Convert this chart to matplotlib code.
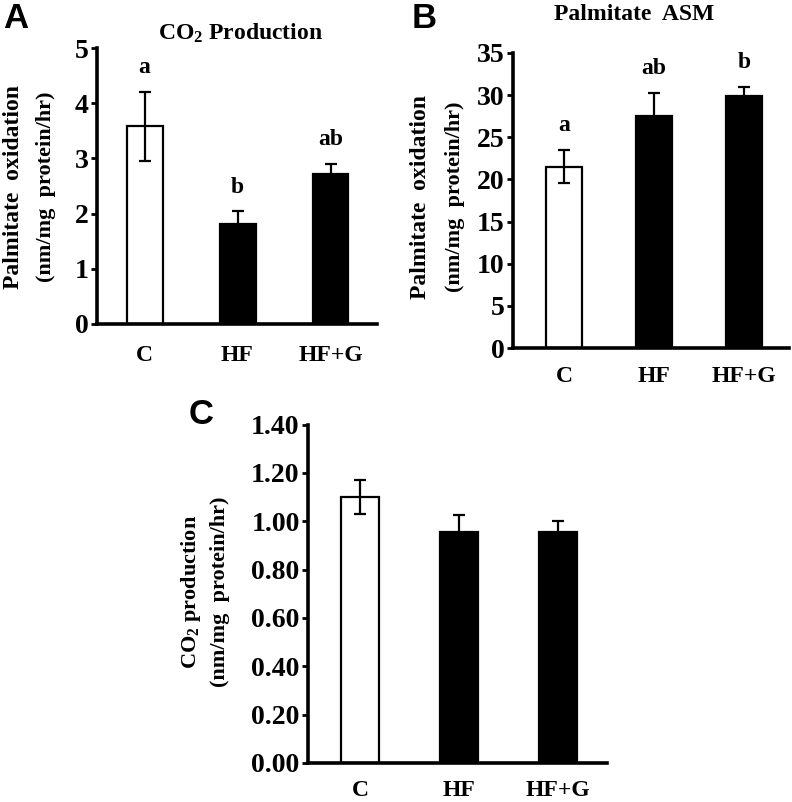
import matplotlib
matplotlib.use("Agg")
import matplotlib.pyplot as plt
import numpy as np

# ---- data ----
groups = ["C", "HF", "HF+G"]
bar_colors = ["white", "black", "black"]

a_means = [3.58, 1.82, 2.71]
a_sem = [0.62, 0.22, 0.19]
a_letters = ["a", "b", "ab"]

b_means = [21.5, 27.5, 29.9]
b_sem = [1.95, 2.8, 1.1]
b_letters = ["a", "ab", "b"]

c_means = [1.10, 0.954, 0.954]
c_sem = [0.07, 0.07, 0.045]

a_ticks = [0, 1, 2, 3, 4, 5]
b_ticks = [0, 5, 10, 15, 20, 25, 30, 35]
c_ticks = [0.0, 0.2, 0.4, 0.6, 0.8, 1.0, 1.2, 1.4]

# ---- style ----
plt.rcParams["font.family"] = ["Liberation Serif", "DejaVu Serif"]
plt.rcParams["font.weight"] = "bold"
plt.rcParams["mathtext.fontset"] = "custom"
plt.rcParams["mathtext.rm"] = "Liberation Serif:bold"
plt.rcParams["mathtext.it"] = "Liberation Serif:bold"
plt.rcParams["mathtext.bf"] = "Liberation Serif:bold"
plt.rcParams["mathtext.default"] = "rm"

W, H = 792, 802
DPI = 100
fig = plt.figure(figsize=(W / DPI, H / DPI), dpi=DPI)


def add_ax(left, right, top, bottom):
    return fig.add_axes([left / W, 1 - bottom / H, (right - left) / W, (bottom - top) / H])


def ftext(x, y, s, **kw):
    fig.text(x / W, 1 - y / H, s, **kw)


def draw_panel(ax, means, sem, xlim, width, ticks, fmt, tick_fs, xfs, xpad, letters=None):
    x = np.arange(len(groups))
    ax.bar(x, means, width=width, color=bar_colors, edgecolor="black", linewidth=1.6, zorder=2)
    ax.errorbar(x, means, yerr=sem, fmt="none", ecolor="black", elinewidth=1.6,
                capsize=4, capthick=1.6, zorder=3)
    ax.set_xlim(*xlim)
    ax.set_ylim(ticks[0], ticks[-1])
    ax.set_yticks(ticks)
    ax.set_yticklabels([fmt.format(t) for t in ticks], fontsize=tick_fs, fontweight="bold")
    ax.set_xticks(x)
    ax.set_xticklabels(groups, fontsize=xfs, fontweight="bold")
    ax.tick_params(axis="x", length=0, pad=xpad)
    ax.tick_params(axis="y", length=4, width=2, direction="out", pad=2)
    for s in ["top", "right"]:
        ax.spines[s].set_visible(False)
    for s in ["left", "bottom"]:
        ax.spines[s].set_linewidth(2.6)
    if letters is not None:
        for xi, m, e, lab in zip(x, means, sem, letters):
            ax.annotate(lab, xy=(xi, m + e), xytext=(0, 10), textcoords="offset points",
                        ha="center", va="bottom", fontsize=17, fontweight="bold")


# Panel A
axA = add_ax(97, 377, 48, 324)
draw_panel(axA, a_means, a_sem, (-0.511, 2.5), 0.387, a_ticks, "{:d}", 20, 17, 15, a_letters)
ftext(240, 33, "CO$_2$ Production", ha="center", va="center", fontsize=17, fontweight="bold")
ftext(14, 187, "Palmitate  oxidation", rotation=90, ha="center", va="center",
      fontsize=17, fontweight="bold")
ftext(46, 187, "(nm/mg  protein/hr)", rotation=90, ha="center", va="center",
      fontsize=16, fontweight="bold")
ftext(3, 19, "A", ha="left", va="center", fontsize=25, fontweight="bold",
      family=["Liberation Sans", "DejaVu Sans"])

# Panel B
axB = add_ax(513, 789, 53, 348)
draw_panel(axB, b_means, b_sem, (-0.567, 2.5), 0.4, b_ticks, "{:d}", 20, 17, 13, b_letters)
ftext(634, 14, "Palmitate  ASM", ha="center", va="center", fontsize=17, fontweight="bold")
ftext(420, 197, "Palmitate  oxidation", rotation=90, ha="center", va="center",
      fontsize=17, fontweight="bold")
ftext(455, 197, "(nm/mg  protein/hr)", rotation=90, ha="center", va="center",
      fontsize=16, fontweight="bold")
ftext(412, 19, "B", ha="left", va="center", fontsize=25, fontweight="bold",
      family=["Liberation Sans", "DejaVu Sans"])

# Panel C
axC = add_ax(308, 607, 424.5, 763)
draw_panel(axC, c_means, c_sem, (-0.525, 2.495), 0.39, c_ticks, "{:.2f}", 20, 17, 12)
ftext(191, 592, "CO$_2$ production", rotation=90, ha="center", va="center",
      fontsize=16, fontweight="bold")
ftext(220, 592, "(nm/mg  protein/hr)", rotation=90, ha="center", va="center",
      fontsize=16, fontweight="bold")
ftext(189, 415, "C", ha="left", va="center", fontsize=25, fontweight="bold",
      family=["Liberation Sans", "DejaVu Sans"])

fig.savefig("out.png", dpi=DPI)
